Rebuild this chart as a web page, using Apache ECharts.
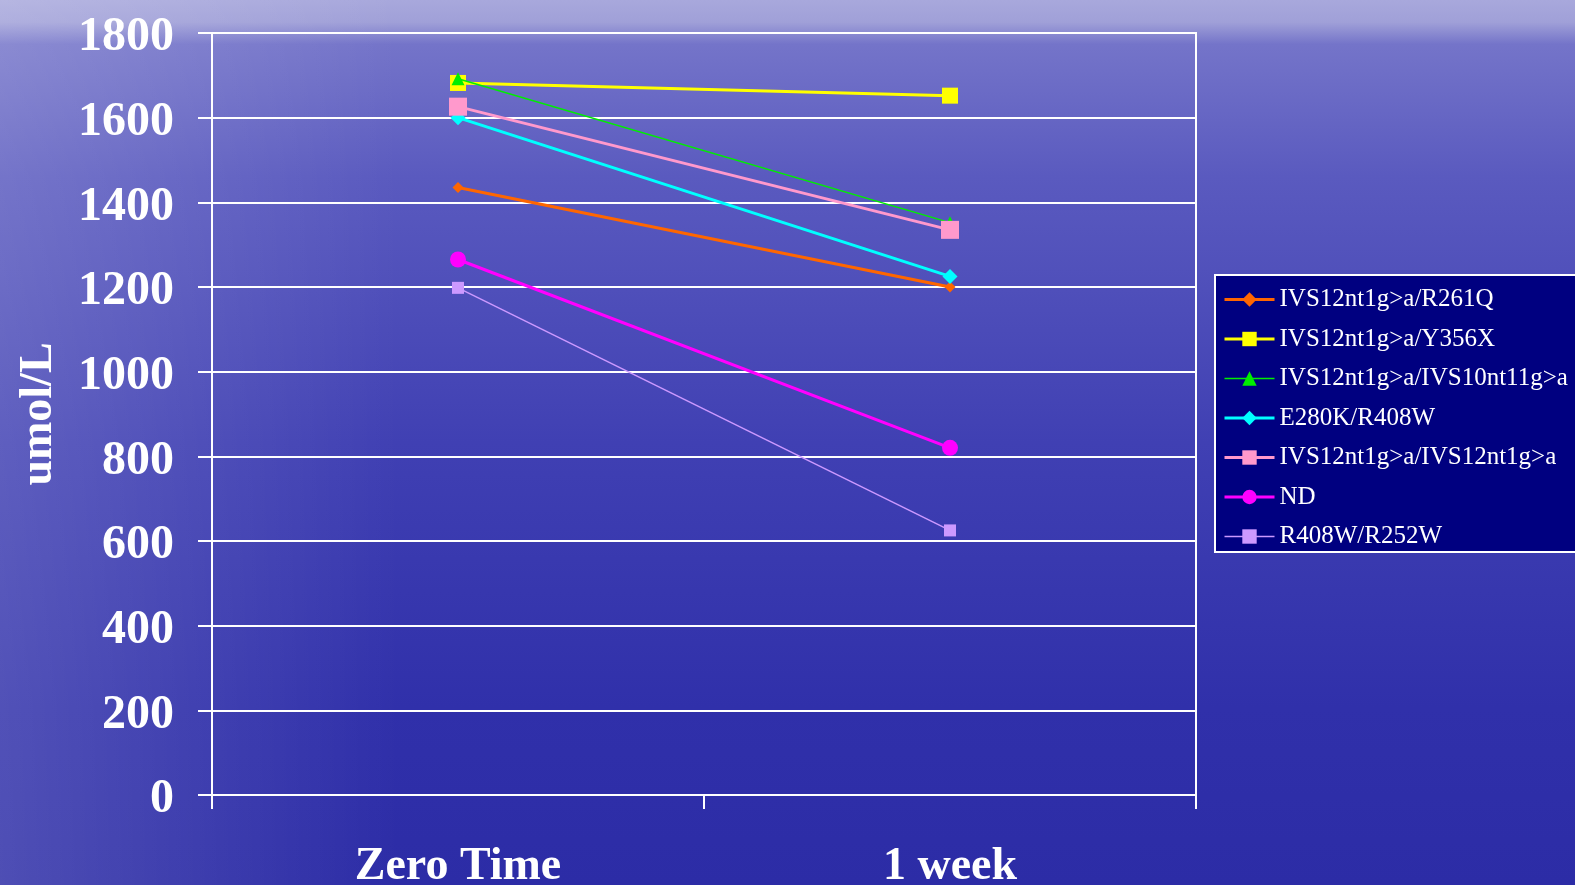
<!DOCTYPE html>
<html>
<head>
<meta charset="utf-8">
<script src="https://cdn.jsdelivr.net/npm/echarts@6/dist/echarts.min.js"></script>
<style>
html,body{margin:0;padding:0;background:#3a3ab0;}
#chart{width:1575px;height:885px;}
</style>
</head>
<body>
<div id="chart"></div>
<script>
var categories = ['Zero Time', '1 week'];
var yTicks = [0, 200, 400, 600, 800, 1000, 1200, 1400, 1600, 1800];
var seriesNames = ['IVS12nt1g>a/R261Q', 'IVS12nt1g>a/Y356X', 'IVS12nt1g>a/IVS10nt11g>a', 'E280K/R408W', 'IVS12nt1g>a/IVS12nt1g>a', 'ND', 'R408W/R252W'];
var r261q = [1435, 1200];
var y356x = [1682, 1652];
var ivs10 = [1692, 1352];
var e280k = [1600, 1225];
var ivs12 = [1626, 1335];
var nd = [1265, 820];
var r252w = [1198, 625];

var seriesData = [r261q, y356x, ivs10, e280k, ivs12, nd, r252w];
var colors = ['#FF6600', '#FFFF00', '#00EE00', '#00FFFF', '#FF99CC', '#FF00FF', '#CC99FF'];
var symbols = ['diamond', 'rect', 'triangle', 'diamond', 'rect', 'circle', 'rect'];
var symbolSizes = [11, 16, 13, 15, 18, 16, 12];
var lineWidths = [3, 3, 1.5, 3, 3, 3, 1.5];

var font = "'Liberation Serif', 'Times New Roman', serif";

var chart = echarts.init(document.getElementById('chart'), null, {renderer: 'canvas'});

var series = seriesNames.map(function (name, i) {
  return {
    name: name,
    type: 'line',
    data: seriesData[i],
    symbol: symbols[i],
    symbolSize: symbolSizes[i],
    showAllSymbol: true,
    lineStyle: {color: colors[i], width: lineWidths[i]},
    itemStyle: {color: colors[i]},
    emphasis: {disabled: true},
    animation: false,
    z: 3 + i
  };
});

var legendData = seriesNames.map(function (name, i) {
  return {name: name, lineStyle: {width: lineWidths[i], color: colors[i]}};
});

chart.setOption({
  animation: false,
  backgroundColor: {
    type: 'linear', x: 0, y: 0, x2: 0, y2: 1,
    colorStops: [
      {offset: 0, color: '#a8a8dc'},
      {offset: 0.025, color: '#a0a0d8'},
      {offset: 0.05, color: '#7474c9'},
      {offset: 0.2, color: '#5a5abf'},
      {offset: 0.5, color: '#4040b3'},
      {offset: 0.8, color: '#3030aa'},
      {offset: 1, color: '#2c2ca6'}
    ]
  },
  graphic: [{
    type: 'rect',
    shape: {x: 0, y: 0, width: 400, height: 885},
    style: {
      fill: {
        type: 'linear', x: 0, y: 0, x2: 1, y2: 0,
        colorStops: [
          {offset: 0, color: 'rgba(255,255,255,0.16)'},
          {offset: 1, color: 'rgba(255,255,255,0)'}
        ]
      }
    },
    silent: true,
    z: -10
  }],
  grid: {
    left: 212, right: 379, top: 33, bottom: 90,
    containLabel: false,
    outerBoundsMode: 'none',
    show: true, borderColor: '#ffffff', borderWidth: 2,
    backgroundColor: 'transparent'
  },
  legend: {
    orient: 'vertical',
    left: 1215,
    top: 275,
    backgroundColor: '#000080',
    borderColor: '#ffffff',
    borderWidth: 2,
    borderRadius: 0,
    padding: [12, 20, 3, 8],
    itemWidth: 50,
    itemHeight: 18,
    itemGap: 14.5,
    data: legendData,
    textStyle: {color: '#ffffff', fontFamily: font, fontSize: 25, lineHeight: 24.5},
    selectedMode: false
  },
  xAxis: {
    type: 'category',
    data: categories,
    boundaryGap: true,
    axisLine: {show: true, lineStyle: {color: '#ffffff', width: 2}},
    axisTick: {show: true, length: 14, lineStyle: {color: '#ffffff', width: 2}},
    axisLabel: {color: '#ffffff', fontFamily: font, fontWeight: 'bold', fontSize: 46, margin: 49},
    splitLine: {show: false}
  },
  yAxis: {
    type: 'value',
    min: 0, max: 1800, interval: 200,
    name: 'umol/L',
    nameLocation: 'middle',
    nameGap: 150,
    nameRotate: 90,
    nameTextStyle: {color: '#ffffff', fontFamily: font, fontWeight: 'bold', fontSize: 46},
    axisLine: {show: true, lineStyle: {color: '#ffffff', width: 2}},
    axisTick: {show: true, length: 14, lineStyle: {color: '#ffffff', width: 2}},
    axisLabel: {
      color: '#ffffff', fontFamily: font, fontWeight: 'bold', fontSize: 48, margin: 38,
      formatter: function (v) { return yTicks.indexOf(v) >= 0 ? '{v|' + v + '}' : ''; },
      rich: {
        v: {color: '#ffffff', fontFamily: font, fontWeight: 'bold', fontSize: 48, padding: [10, 0, 0, 0]}
      }
    },
    splitLine: {show: true, lineStyle: {color: '#ffffff', width: 2}}
  },
  series: series
});
</script>
</body>
</html>
